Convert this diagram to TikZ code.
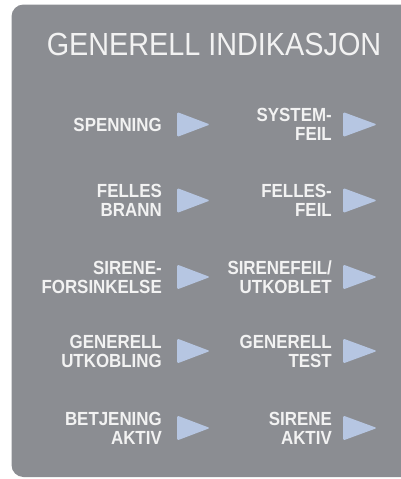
\documentclass[tikz,border=0pt]{standalone}
\usepackage{fontspec}
\setmainfont{Liberation Sans}
\newfontfamily\lblfont[FakeStretch=0.89]{Liberation Sans}
\newfontfamily\ttlfont[FakeStretch=0.9]{Liberation Sans}
\definecolor{panelgray}{RGB}{139,141,146}
\definecolor{txtwhite}{RGB}{242,242,242}
\definecolor{indblue}{RGB}{182,198,226}
\tikzset{
  panel/.style={fill=panelgray, rounded corners=12pt},
  title/.style={font=\ttlfont\fontsize{32}{32}\selectfont, text=txtwhite, inner sep=0pt, anchor=base},
  lbl/.style={font=\lblfont\bfseries\fontsize{19}{19}\selectfont, text=txtwhite, inner sep=0pt, anchor=east, align=right},
  ind/.style={fill=indblue, rounded corners=1.5pt}
}
\begin{document}
\begin{tikzpicture}[x=1pt,y=-1pt]
\useasboundingbox (0,0) rectangle (401,479);
\clip (0,0) rectangle (401,479);
\fill[panel] (11.5,4.5) rectangle (430,477);
\node[title] (ttl) at (214,55.5) {GENERELL INDIKASJON};
% rows
\foreach \y/\l/\r/\n in {124.5/{SPENNING}/{SYSTEM-\\FEIL}/1,
                          200.5/{FELLES\\BRANN}/{FELLES-\\FEIL}/2,
                          277/{SIRENE-\\FORSINKELSE}/{SIRENEFEIL/\\UTKOBLET}/3,
                          351/{GENERELL\\UTKOBLING}/{GENERELL\\TEST}/4,
                          428/{BETJENING\\AKTIV}/{SIRENE\\AKTIV}/5}{
  \node[lbl] (l\n) at (162,\y) {\l};
  \node[lbl] (r\n) at (332,\y) {\r};
  \fill[ind] (177,\y-12.5) -- (210,\y) -- (177,\y+12.5) -- cycle;
  \fill[ind] (343,\y-12.5) -- (377,\y) -- (343,\y+12.5) -- cycle;
}
\end{tikzpicture}
\end{document}
